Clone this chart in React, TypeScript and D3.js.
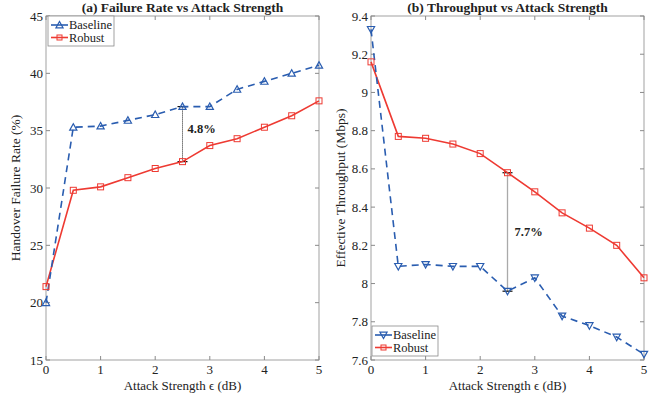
import { useEffect, useRef } from 'react'
import * as d3 from 'd3'

const attack = [0, 0.5, 1, 1.5, 2, 2.5, 3, 3.5, 4, 4.5, 5]

const failBaseline = [20.0, 35.3, 35.4, 35.9, 36.4, 37.1, 37.1, 38.6, 39.3, 40.0, 40.7]
const failRobust = [21.4, 29.8, 30.1, 30.9, 31.7, 32.3, 33.7, 34.3, 35.3, 36.3, 37.6]

const tputBaseline = [9.33, 8.09, 8.1, 8.09, 8.09, 7.96, 8.03, 7.83, 7.78, 7.72, 7.63]
const tputRobust = [9.16, 8.77, 8.76, 8.73, 8.68, 8.58, 8.48, 8.37, 8.29, 8.2, 8.03]

const xTicks = [0, 1, 2, 3, 4, 5]
const failTicks = [15, 20, 25, 30, 35, 40, 45]
const tputTicks = [7.6, 7.8, 8, 8.2, 8.4, 8.6, 8.8, 9, 9.2, 9.4]

const BLUE = '#2a5db0'
const RED = '#ee3a32'
const FONT = 'Liberation Serif, Times New Roman, Times, serif'

export default function App() {
  const ref = useRef<SVGSVGElement>(null)

  useEffect(() => {
    const svg = d3.select(ref.current)
    svg.selectAll('*').remove()

    const txt = (g: any, x: number, y: number, s: string, size = 13, anchor = 'start', bold = false) =>
      g.append('text').attr('x', x).attr('y', y).attr('text-anchor', anchor)
        .attr('font-family', FONT).attr('font-size', size)
        .attr('font-weight', bold ? 'bold' : 'normal').attr('fill', '#222').text(s)

    const panel = (opts: any) => {
      const { left, right, top, bottom, yDomain, yTicks, base, robust, title, ylabel, triDown, legend, fmt, note, noteDx, noteY, dotted } = opts
      const x = d3.scaleLinear().domain([0, 5]).range([left, right])
      const y = d3.scaleLinear().domain(yDomain).range([bottom, top])
      const g = svg.append('g')

      g.append('rect')
        .attr('x', left).attr('y', top)
        .attr('width', right - left).attr('height', bottom - top)
        .attr('fill', 'white').attr('stroke', '#8a8a8a').attr('stroke-width', 0.8)

      xTicks.forEach(t => {
        g.append('line').attr('x1', x(t)).attr('x2', x(t)).attr('y1', bottom).attr('y2', bottom - 4).attr('stroke', '#8a8a8a')
        g.append('line').attr('x1', x(t)).attr('x2', x(t)).attr('y1', top).attr('y2', top + 4).attr('stroke', '#8a8a8a')
        txt(g, x(t), bottom + 14, String(t), 13, 'middle')
      })
      yTicks.forEach((t: number) => {
        g.append('line').attr('x1', left).attr('x2', left + 4).attr('y1', y(t)).attr('y2', y(t)).attr('stroke', '#8a8a8a')
        g.append('line').attr('x1', right).attr('x2', right - 4).attr('y1', y(t)).attr('y2', y(t)).attr('stroke', '#8a8a8a')
        txt(g, left - 3, y(t) + 4.5, fmt(t), 13, 'end')
      })

      // gap annotation at 2.5 dB
      const ya = y(base[5]), yb = y(robust[5])
      g.append('line').attr('x1', x(2.5)).attr('x2', x(2.5)).attr('y1', ya).attr('y2', yb)
        .attr('stroke', dotted ? '#222' : '#aaa').attr('stroke-width', dotted ? 1 : 1.3)
        .attr('stroke-dasharray', dotted ? '1,1' : null)
      ;[ya, yb].forEach(v => {
        g.append('line').attr('x1', x(2.5) - 5).attr('x2', x(2.5) + 5).attr('y1', v).attr('y2', v).attr('stroke', '#111').attr('stroke-width', 1.2)
      })
      txt(g, x(2.5) + noteDx, noteY, note, 12.5, 'start', true)

      const line = d3.line<number>().x((_, i) => x(attack[i])).y(d => y(d))
      g.append('path').datum(robust).attr('d', line).attr('fill', 'none').attr('stroke', RED).attr('stroke-width', 1.6)
      g.append('path').datum(base).attr('d', line).attr('fill', 'none').attr('stroke', BLUE).attr('stroke-width', 1.6)
        .attr('stroke-dasharray', '7,5')

      const tri = (cx: number, cy: number) => {
        const s = 3.6
        return triDown
          ? `M${cx - s},${cy - s * 0.8}L${cx + s},${cy - s * 0.8}L${cx},${cy + s}Z`
          : `M${cx - s},${cy + s * 0.8}L${cx + s},${cy + s * 0.8}L${cx},${cy - s}Z`
      }
      robust.forEach((v: number, i: number) => {
        g.append('rect').attr('x', x(attack[i]) - 3).attr('y', y(v) - 3).attr('width', 6).attr('height', 6)
          .attr('fill', 'none').attr('stroke', RED).attr('stroke-width', 1)
      })
      base.forEach((v: number, i: number) => {
        g.append('path').attr('d', tri(x(attack[i]), y(v))).attr('fill', 'none').attr('stroke', BLUE).attr('stroke-width', 1.2)
      })

      // legend
      const lg = g.append('g').attr('transform', `translate(${legend[0]},${legend[1]})`)
      lg.append('rect').attr('width', 66).attr('height', 30).attr('fill', 'white').attr('stroke', '#8a8a8a').attr('stroke-width', 0.8)
      lg.append('line').attr('x1', 3).attr('x2', 20).attr('y1', 9).attr('y2', 9).attr('stroke', BLUE).attr('stroke-width', 1.6)
      lg.append('path').attr('d', tri(11.5, 9)).attr('fill', 'none').attr('stroke', BLUE).attr('stroke-width', 1.2)
      lg.append('line').attr('x1', 3).attr('x2', 20).attr('y1', 21.5).attr('y2', 21.5).attr('stroke', RED).attr('stroke-width', 1.6)
      lg.append('rect').attr('x', 9).attr('y', 19).attr('width', 5).attr('height', 5).attr('fill', 'none').attr('stroke', RED)
      const t1 = txt(lg, 21, 13, 'Baseline', 12.5)
      txt(lg, 21, 25.5, 'Robust', 12.5)
      // keep the label inside its box whatever font is picked
      const w = (t1.node() as SVGTextElement).getComputedTextLength()
      if (w > 43) lg.selectAll('text').attr('textLength', null).attr('font-size', 12.5 * 43 / w)

      txt(g, (left + right) / 2, 12, title, 13.5, 'middle', true)
      txt(g, (left + right) / 2, 390, 'Attack Strength ϵ (dB)', 13, 'middle')
      txt(g, 0, 0, ylabel, 13.5, 'middle')
        .attr('transform', `translate(${left - 26},${(top + bottom) / 2}) rotate(-90)`)
    }

    panel({
      left: 46, right: 319, top: 16, bottom: 360, yDomain: [15, 45], yTicks: failTicks,
      base: failBaseline, robust: failRobust, title: '(a) Failure Rate vs Attack Strength',
      ylabel: 'Handover Failure Rate (%)', triDown: false, legend: [48, 16], fmt: (t: number) => String(t),
      note: '4.8%', noteDx: 5, noteY: 133, dotted: true
    })
    panel({
      left: 371, right: 644, top: 16, bottom: 360, yDomain: [7.6, 9.4], yTicks: tputTicks,
      base: tputBaseline, robust: tputRobust, title: '(b) Throughput vs Attack Strength',
      ylabel: 'Effective Throughput (Mbps)', triDown: true, legend: [372, 326], fmt: (t: number) => d3.format('~g')(t),
      note: '7.7%', noteDx: 7, noteY: 236, dotted: false
    })
  }, [])

  return <svg ref={ref} width={659} height={396} style={{ position: 'absolute', left: 0, top: 0, background: 'white' }} />
}
